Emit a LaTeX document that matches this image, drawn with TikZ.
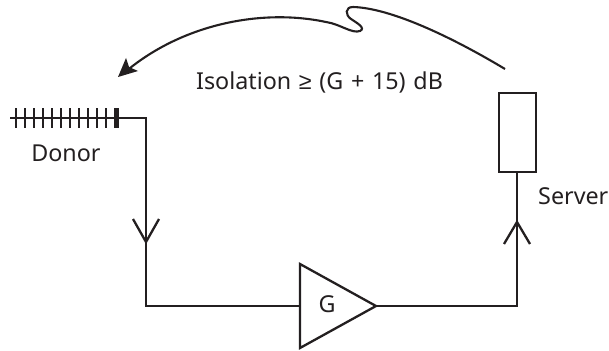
\documentclass[tikz,border=0pt]{standalone}
\usepackage{fontspec}
\setmainfont{Noto Sans}
\newfontfamily\symfont{Liberation Sans}
\definecolor{ink}{HTML}{231F20}
\tikzset{
  wire/.style={draw=ink,line width=2.3pt},
  lbl/.style={text=ink,font=\fontsize{23.3}{28}\selectfont,inner sep=0pt,anchor=base},
  barb/.style={draw=ink,line width=2.3pt,fill=none},
}
\begin{document}
\begin{tikzpicture}[x=1pt,y=-1pt]
\useasboundingbox (0,0) rectangle (609,350);
% amplifier
\coordinate (t1) at (300,264);
\coordinate (t2) at (300,348);
\coordinate (tip) at (376,306);
\coordinate (ampin) at (300,306);
\draw[wire,line join=miter] (t1) -- (tip) -- (t2) -- cycle;
\node[lbl] (gain) at (327,312) {G};
% donor antenna
\coordinate (antl) at (10,118);
\coordinate (corner1) at (146,118);
\coordinate (corner2) at (146,306);
\draw[wire,line join=miter] (antl) -- (corner1) -- (corner2) -- (ampin);
\foreach \x in {16,25,34,43,52,61,70,79,88,97,106}
  \draw[draw=ink,line width=1.5pt] (\x,108) -- (\x,128);
\fill[ink] (113.5,108) rectangle (118.5,128);
\node[lbl] (donor) at (66,161) {Donor};
% server
\node[draw=ink,line width=2.3pt,minimum width=37pt,minimum height=79pt,inner sep=0pt,outer sep=0pt] (srv) at (517.5,132.5) {};
\coordinate (corner3) at (517,306);
\draw[wire,line join=miter] (tip) -- (corner3) -- (srv.south -| corner3);
\node[lbl,anchor=base west] (server) at (538,204) {Server};
% flow barbs
\coordinate (upa) at (517,222);
\draw[barb] (504,244) -- (upa) -- (530,244);
\coordinate (dna) at (146,242);
\draw[barb] (133,219) -- (dna) -- (159,219);
% leakage path
\coordinate (ls) at (505,69);
\coordinate (le) at (124,73);
\draw[draw=ink,line width=2.1pt] (ls)
  .. controls (450,36) and (390,8) .. (353,7)
  .. controls (345,7) and (345,15) .. (351,19)
  .. controls (357,23) and (366,28) .. (360,31)
  .. controls (352,34) and (340,24) .. (326,22)
  .. controls (260,8) and (180,25) .. (le);
\fill[ink] (118,77) -- (138,71) -- (129,67) -- (126,58) -- cycle;
\node[lbl] (iso) at (319.5,90) {\spaceskip=.33em Isolation {\symfont ≥} (G + 15) dB};
\end{tikzpicture}
\end{document}
